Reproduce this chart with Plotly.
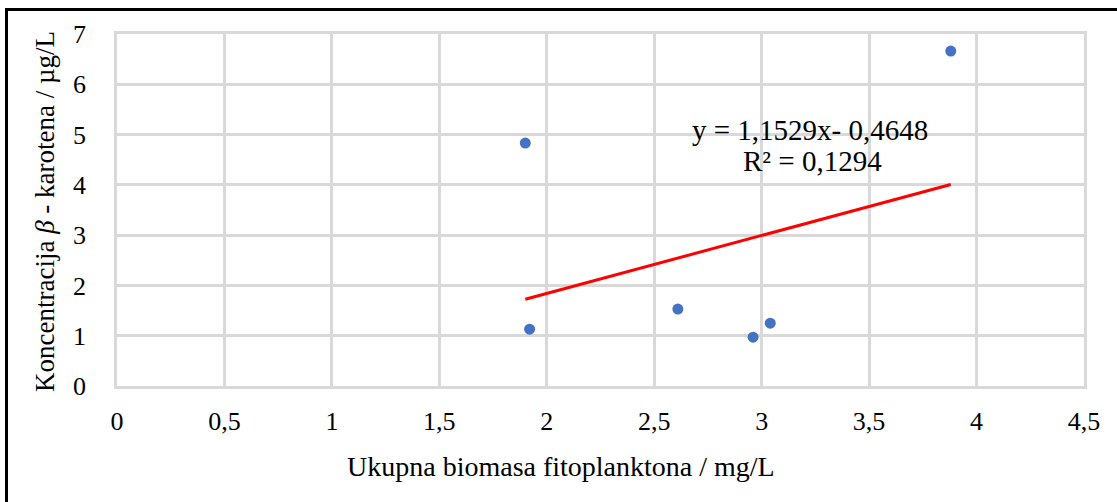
import plotly.graph_objects as go

# data
biomasa = [1.90, 1.92, 2.61, 2.96, 3.04, 3.88]
karoten = [4.83, 1.13, 1.53, 0.97, 1.25, 6.66]
slope = 1.1529
intercept = -0.4648
x_ticks = [0, 0.5, 1, 1.5, 2, 2.5, 3, 3.5, 4, 4.5]
x_ticktext = ["0", "0,5", "1", "1,5", "2", "2,5", "3", "3,5", "4", "4,5"]
y_ticks = [0, 1, 2, 3, 4, 5, 6, 7]
eq_text = "y = 1,1529x- 0,4648"
r2_text = "R² = 0,1294"

font_family = "Liberation Serif, Times New Roman, serif"

x_line = [min(biomasa), max(biomasa)]
y_line = [slope * v + intercept for v in x_line]

fig = go.Figure()
fig.add_trace(go.Scatter(x=biomasa, y=karoten, mode="markers",
                         marker=dict(color="#4472C4", size=11), showlegend=False))
fig.add_trace(go.Scatter(x=x_line, y=y_line, mode="lines",
                         line=dict(color="#FF0000", width=3), showlegend=False))

W, H = 1117, 502
L, R, T, B = 117, 1084, 34, 386

fig.update_layout(
    width=W, height=H,
    margin=dict(l=L, r=W - R, t=T, b=H - B, autoexpand=False),
    paper_bgcolor="white", plot_bgcolor="white",
    font=dict(family=font_family, size=26, color="black"),
    xaxis=dict(range=[0, 4.5], tickvals=x_ticks, ticktext=x_ticktext,
               showgrid=True, gridcolor="#D9D9D9", gridwidth=2.5,
               zeroline=False, showline=True, linecolor="#D9D9D9", linewidth=2.5,
               mirror=True, ticks="", ticklabelstandoff=10),
    yaxis=dict(range=[0, 7], tickvals=y_ticks,
               showgrid=True, gridcolor="#D9D9D9", gridwidth=2.5,
               zeroline=False, showline=True, linecolor="#D9D9D9", linewidth=2.5,
               mirror=True, ticks="", ticklabelstandoff=23),
)

def px_x(p):
    return (p - L) / (R - L)

def px_y(p):
    return (B - p) / (B - T)

fig.add_annotation(text="Ukupna biomasa fitoplanktona / mg/L", xref="paper", yref="paper",
                   x=px_x(561), y=px_y(467), showarrow=False, font=dict(size=28),
                   xanchor="center", yanchor="middle")
fig.add_annotation(text="Koncentracija <i>β</i> - karotena / µg/L", xref="paper", yref="paper",
                   x=px_x(45), y=px_y(212), showarrow=False, font=dict(size=27), textangle=-90,
                   xanchor="center", yanchor="middle")
fig.add_annotation(text=eq_text, xref="paper", yref="paper",
                   x=px_x(810), y=px_y(130), showarrow=False, font=dict(size=29),
                   xanchor="center", yanchor="middle")
fig.add_annotation(text=r2_text, xref="paper", yref="paper",
                   x=px_x(812), y=px_y(161), showarrow=False, font=dict(size=29),
                   xanchor="center", yanchor="middle")

# outer chart border (only top and left visible in frame)
fig.add_shape(type="rect", xref="paper", yref="paper",
              x0=px_x(6.5), x1=px_x(1130), y0=px_y(9.5), y1=px_y(520),
              line=dict(color="black", width=3), layer="above")

fig.write_html("out.html", config={"displayModeBar": False},
               post_script="document.body.style.margin='0px';")
